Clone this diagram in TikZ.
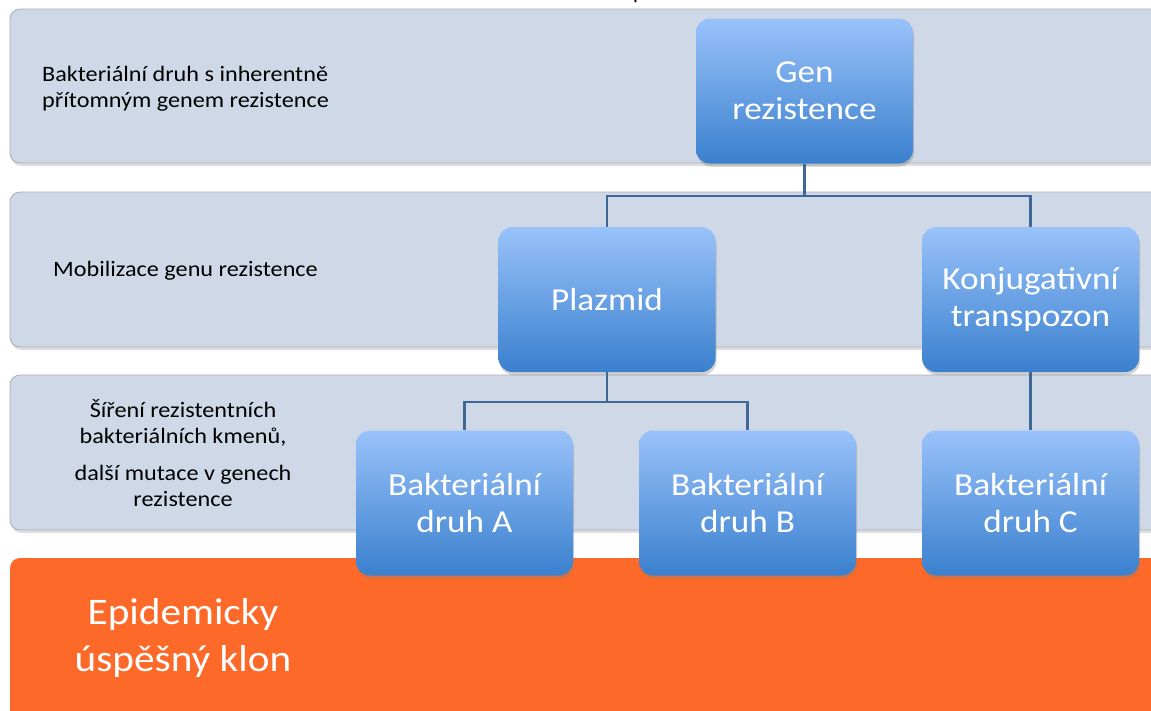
\documentclass[tikz,border=0pt]{standalone}
\usepackage{fontspec}
\setmainfont[FakeStretch=1.1]{Carlito}
\usetikzlibrary{shadows}
\definecolor{bandfill}{HTML}{CFD8E7}
\definecolor{bandline}{HTML}{A9AEB7}
\definecolor{orng}{HTML}{FD6928}
\definecolor{btop}{HTML}{99C2FA}
\definecolor{bmid}{HTML}{6FA3E8}
\definecolor{bbot}{HTML}{3A80CE}
\definecolor{connc}{HTML}{3F6896}
\tikzset{
  band/.style={fill=bandfill, draw=bandline, line width=0.8pt, rounded corners=10pt,
    drop shadow={opacity=0.25, shadow xshift=1pt, shadow yshift=-3pt}},
  obox/.style={fill=orng, rounded corners=10pt,
    drop shadow={opacity=0.25, shadow xshift=1pt, shadow yshift=-3pt}},
  bx/.style={rectangle, rounded corners=14pt, minimum width=217pt, minimum height=145pt,
    top color=btop, middle color=bmid, bottom color=bbot, text=white, align=center,
    font=\fontsize{32}{37}\selectfont, inner sep=0pt,
    drop shadow={opacity=0.35, shadow xshift=1pt, shadow yshift=-3pt}},
  lab/.style={text=black, font=\fontsize{22}{26}\selectfont, inner sep=0pt},
  olab/.style={text=white, font=\fontsize{37.5}{47}\selectfont, inner sep=0pt, align=center},
  conn/.style={draw=connc, line width=2.5pt}
}
\begin{document}
\begin{tikzpicture}[x=1pt,y=-1pt]
\fill[white] (0,0) rectangle (1151,710);
\useasboundingbox (0,0) rectangle (1151,710);
% bands
\path[band] (10,9) rectangle (1180,163);
\path[band] (10,192) rectangle (1180,347);
\path[band] (10,375) rectangle (1180,530);
\path[obox] (10,558) rectangle (1180,740);
% cut-off glyph at top
\node[anchor=base west, font=\fontsize{20}{24}\selectfont, inner sep=0pt] (ptop) at (633,-1) {p};
% band labels
\node[lab, anchor=west, align=left] (lab1) at (42,89) {Bakteriální druh s inherentně\\přítomným genem rezistence};
\node[lab, anchor=base west] (lab2) at (53,276) {Mobilizace genu rezistence};
\node[lab, align=center] (lab3) at (183,453) {Šíření rezistentních\\bakteriálních kmenů,\\[11pt]další mutace v genech\\rezistence};
\node[olab] (lab4) at (183,638) {Epidemicky\\úspěšný klon};
% junction rows
\coordinate (r1) at (0,196);
\coordinate (r2) at (0,402);
% boxes
\node[bx] (gen) at (804.5,91) {Gen\\rezistence};
\node[bx] (plaz) at (607,299.5) {Plazmid};
\node[bx] (konj) at (1030.5,299.5) {Konjugativní\\transpozon};
\node[bx] (a) at (464.5,503) {Bakteriální\\druh A};
\node[bx] (b) at (747.5,503) {Bakteriální\\druh B};
\node[bx] (c) at (1030.5,503) {Bakteriální\\druh C};
% connectors
\draw[conn] (gen.south) -- (gen.south |- r1) -| (plaz.north);
\draw[conn] (gen.south |- r1) -| (konj.north);
\draw[conn] (plaz.south) -- (plaz.south |- r2) -| (a.north);
\draw[conn] (plaz.south |- r2) -| (b.north);
\draw[conn] (konj.south) -- (c.north);
\end{tikzpicture}
\end{document}
